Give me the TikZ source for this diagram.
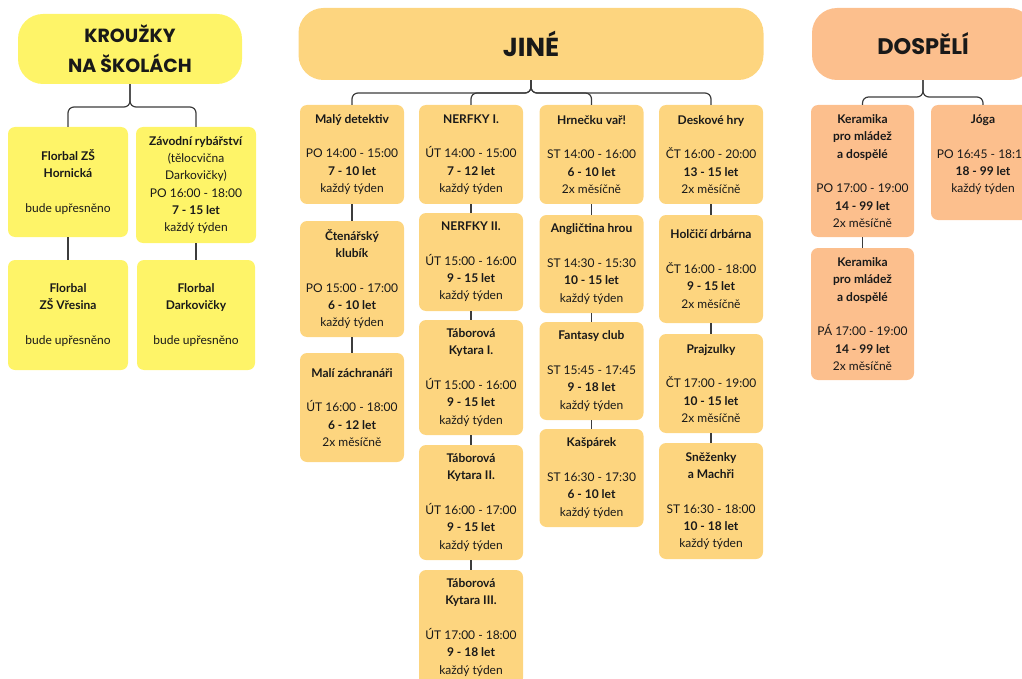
\documentclass[tikz,border=0pt]{standalone}
\usepackage{fontspec}
\setmainfont{Lato}
\newfontfamily\hlavni{Poppins}
\usepackage{tikz}
\definecolor{zluta}{HTML}{FEF468}
\definecolor{oranz}{HTML}{FDD57F}
\definecolor{broskev}{HTML}{FCBF8D}
\definecolor{linka}{HTML}{3C3C3C}
\tikzstyle{hlava}=[rounded corners=25pt,inner sep=0pt,align=center,text=black!90,font=\hlavni\bfseries]
\tikzstyle{karta}=[rounded corners=7pt,inner sep=0pt,align=center,minimum width=104pt,text=black!90,font=\fontsize{12}{17.3}\selectfont]
\tikzstyle{spoj}=[linka,line width=1.2pt,rounded corners=6pt]

\begin{document}
\begin{tikzpicture}[x=1pt,y=-1pt]
    \useasboundingbox (0,0) rectangle (1022,679);
    \clip (0,0) rectangle (1022,679);
    % krouzky na skolach
    \node [hlava,fill=zluta,minimum width=224pt,minimum height=70pt,font=\hlavni\bfseries\fontsize{19}{30}\selectfont] (hkr) at (130,49) {KROUŽKY\\NA ŠKOLÁCH};
    \node [karta,fill=zluta,minimum width=120pt,minimum height=110pt] (fhor) at (68,182) {\textbf{Florbal ZŠ}\\\textbf{Hornická}\\[17.3pt]bude upřesněno};
    \node [karta,fill=zluta,minimum width=120pt,minimum height=116pt] (zavod) at (196,185) {\textbf{Závodní rybářství}\\(tělocvična\\Darkovičky)\\PO 16:00 - 18:00\\\textbf{7 - 15 let}\\každý týden};
    \node [karta,fill=zluta,minimum width=120pt,minimum height=110pt] (fvre) at (68,315) {\textbf{Florbal}\\\textbf{ZŠ Vřesina}\\[17.3pt]bude upřesněno};
    \node [karta,fill=zluta,minimum width=118pt,minimum height=110pt] (fdar) at (196,315) {\textbf{Florbal}\\\textbf{Darkovičky}\\[17.3pt]bude upřesněno};
    \coordinate (jkr) at (130,107);
    \draw [spoj] (hkr.south) |- (fhor.north |- jkr) -- (fhor.north);
    \draw [spoj] (hkr.south) |- (zavod.north |- jkr) -- (zavod.north);
    \draw [spoj] (fhor) -- (fvre);
    \draw [spoj] (zavod) -- (fdar);
    % jine
    \node [hlava,fill=oranz,minimum width=465pt,minimum height=72pt,font=\hlavni\bfseries\fontsize{26}{30}\selectfont] (hji) at (531,44) {JINÉ};
    \node [karta,fill=oranz,minimum height=99pt] (maly) at (352,154.5) {\textbf{Malý detektiv}\\[17.3pt]PO 14:00 - 15:00\\\textbf{7 - 10 let}\\každý týden};
    \node [karta,fill=oranz,minimum height=116pt] (cten) at (352,279) {\textbf{Čtenářský}\\\textbf{klubík}\\[17.3pt]PO 15:00 - 17:00\\\textbf{6 - 10 let}\\každý týden};
    \node [karta,fill=oranz,minimum height=109pt] (zachr) at (352,407.5) {\textbf{Malí záchranáři}\\[17.3pt]ÚT 16:00 - 18:00\\\textbf{6 - 12 let}\\2x měsíčně};
    \node [karta,fill=oranz,minimum height=99pt] (nerf1) at (471,154.5) {\textbf{NERFKY I.}\\[17.3pt]ÚT 14:00 - 15:00\\\textbf{7 - 12 let}\\každý týden};
    \node [karta,fill=oranz,minimum height=98pt] (nerf2) at (471,262) {\textbf{NERFKY II.}\\[17.3pt]ÚT 15:00 - 16:00\\\textbf{9 - 15 let}\\každý týden};
    \node [karta,fill=oranz,minimum height=115pt] (kyt1) at (471,377.5) {\textbf{Táborová}\\\textbf{Kytara I.}\\[17.3pt]ÚT 15:00 - 16:00\\\textbf{9 - 15 let}\\každý týden};
    \node [karta,fill=oranz,minimum height=115pt] (kyt2) at (471,502.5) {\textbf{Táborová}\\\textbf{Kytara II.}\\[17.3pt]ÚT 16:00 - 17:00\\\textbf{9 - 15 let}\\každý týden};
    \node [karta,fill=oranz,minimum height=115pt] (kyt3) at (471,627.5) {\textbf{Táborová}\\\textbf{Kytara III.}\\[17.3pt]ÚT 17:00 - 18:00\\\textbf{9 - 18 let}\\každý týden};
    \node [karta,fill=oranz,minimum height=99pt] (hrn) at (591.5,154.5) {\textbf{Hrnečku vař!}\\[17.3pt]ST 14:00 - 16:00\\\textbf{6 - 10 let}\\2x měsíčně};
    \node [karta,fill=oranz,minimum height=98pt] (angl) at (591.5,264) {\textbf{Angličtina hrou}\\[17.3pt]ST 14:30 - 15:30\\\textbf{10 - 15 let}\\každý týden};
    \node [karta,fill=oranz,minimum height=98pt] (fant) at (591.5,371) {\textbf{Fantasy club}\\[17.3pt]ST 15:45 - 17:45\\\textbf{9 - 18 let}\\každý týden};
    \node [karta,fill=oranz,minimum height=98pt] (kasp) at (591.5,478) {\textbf{Kašpárek}\\[17.3pt]ST 16:30 - 17:30\\\textbf{6 - 10 let}\\každý týden};
    \node [karta,fill=oranz,minimum height=99pt] (desk) at (711,154.5) {\textbf{Deskové hry}\\[17.3pt]ČT 16:00 - 20:00\\\textbf{13 - 15 let}\\2x měsíčně};
    \node [karta,fill=oranz,minimum height=108pt] (holc) at (711,269) {\textbf{Holčičí drbárna}\\[17.3pt]ČT 16:00 - 18:00\\\textbf{9 - 15 let}\\2x měsíčně};
    \node [karta,fill=oranz,minimum height=99pt] (praj) at (711,383.5) {\textbf{Prajzulky}\\[17.3pt]ČT 17:00 - 19:00\\\textbf{10 - 15 let}\\2x měsíčně};
    \node [karta,fill=oranz,minimum height=116pt] (snez) at (711,501) {\textbf{Sněženky}\\\textbf{a Machři}\\[17.3pt]ST 16:30 - 18:00\\\textbf{10 - 18 let}\\každý týden};
    \coordinate (jji) at (531,93);
    \draw [spoj] (hji.south) |- (maly.north |- jji) -- (maly.north);
    \draw [spoj] (hji.south) |- (nerf1.north |- jji) -- (nerf1.north);
    \draw [spoj] (hji.south) |- (hrn.north |- jji) -- (hrn.north);
    \draw [spoj] (hji.south) |- (desk.north |- jji) -- (desk.north);
    \draw [spoj] (maly) -- (cten);
    \draw [spoj] (cten) -- (zachr);
    \draw [spoj] (nerf1) -- (nerf2);
    \draw [spoj] (nerf2) -- (kyt1);
    \draw [spoj] (kyt1) -- (kyt2);
    \draw [spoj] (kyt2) -- (kyt3);
    \draw [spoj] (hrn) -- (angl);
    \draw [spoj] (angl) -- (fant);
    \draw [spoj] (fant) -- (kasp);
    \draw [spoj] (desk) -- (holc);
    \draw [spoj] (holc) -- (praj);
    \draw [spoj] (praj) -- (snez);
    % dospeli
    \node [hlava,fill=broskev,minimum width=222pt,minimum height=72pt,font=\hlavni\bfseries\fontsize{22.5}{30}\selectfont] (hdo) at (923,44) {DOSPĚLÍ};
    \node [karta,fill=broskev,minimum width=103pt,minimum height=132pt] (ker1) at (862.5,171) {\textbf{Keramika}\\\textbf{pro mládež}\\\textbf{a dospělé}\\[17.3pt]PO 17:00 - 19:00\\\textbf{14 - 99 let}\\2x měsíčně};
    \node [karta,fill=broskev,minimum width=103pt,minimum height=132pt] (ker2) at (862.5,314) {\textbf{Keramika}\\\textbf{pro mládež}\\\textbf{a dospělé}\\[17.3pt]PÁ 17:00 - 19:00\\\textbf{14 - 99 let}\\2x měsíčně};
    \node [karta,fill=broskev,minimum height=115pt] (joga) at (983,162.5) {\textbf{Jóga}\\[17.3pt]PO 16:45 - 18:15\\\textbf{18 - 99 let}\\každý týden\\[0pt]};
    \coordinate (jdo) at (923,97);
    \draw [spoj] (hdo.south) |- (ker1.north |- jdo) -- (ker1.north);
    \draw [spoj] (hdo.south) |- (joga.north |- jdo) -- (joga.north);
    \draw [spoj] (ker1) -- (ker2);
\end{tikzpicture}
\end{document}
